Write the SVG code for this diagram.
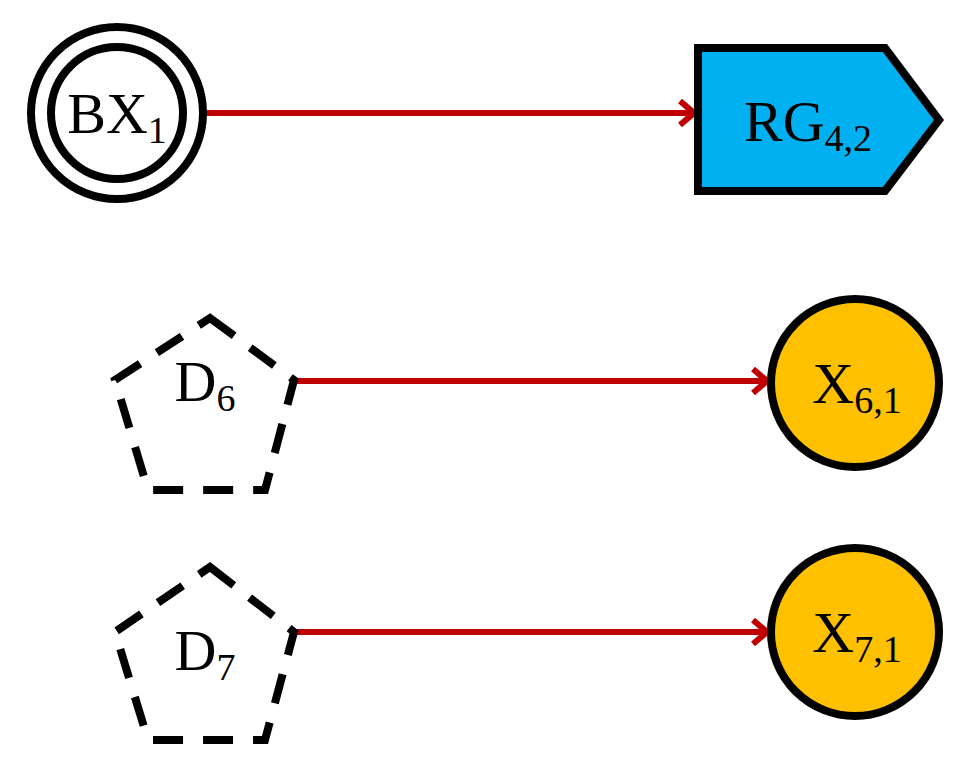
<svg xmlns="http://www.w3.org/2000/svg" width="970" height="773" viewBox="0 0 970 773">
<style>
.t{font-family:"Liberation Serif",serif;font-size:58px;fill:#000}
.s{font-size:38px}
.e{stroke:#C00000;stroke-width:6;fill:none}
.n{stroke:#000;stroke-width:8}
.d{stroke:#000;stroke-width:8;fill:none;stroke-dasharray:30 20}
</style>
<defs><marker id="a" markerWidth="10" markerHeight="10" refX="8" refY="5" orient="auto" markerUnits="userSpaceOnUse" viewBox="0 0 10 10"><path d="M0,0 L8,5 L0,10" fill="none" stroke="#C00000" stroke-width="2"/></marker>
<marker id="m" viewBox="0 0 20 30" refX="17" refY="15" markerWidth="20" markerHeight="30" markerUnits="userSpaceOnUse" orient="auto"><path d="M3,3 L17,15 L3,27" fill="none" stroke="#C00000" stroke-width="6"/></marker></defs>
<g id="connectors">
<line class="e" x1="207" y1="113" x2="694" y2="113" marker-end="url(#m)"/>
<line class="e" x1="293" y1="381" x2="767" y2="381" marker-end="url(#m)"/>
<line class="e" x1="293" y1="632" x2="767" y2="632" marker-end="url(#m)"/>
</g>
<g id="BX1"><circle cx="117" cy="113" r="86" fill="#fff" class="n"/><circle cx="117" cy="113" r="66" fill="none" class="n"/><text class="t" x="117" y="133" text-anchor="middle">BX<tspan class="s" dy="10">1</tspan></text></g>
<g id="RG42"><path d="M698,48 L885,48 L939,120 L885,191 L698,191 Z" fill="#00B0F0" class="n" stroke-linejoin="miter"/><text class="t" x="808" y="141" text-anchor="middle">RG<tspan class="s" dy="10">4,2</tspan></text></g>
<g id="D6"><path d="M210,318 L294,380 L265,490 L148,490 L115,380 Z" class="d"/><text class="t" x="205" y="401" text-anchor="middle">D<tspan class="s" dy="10">6</tspan></text></g>
<g id="X61"><circle cx="855" cy="383" r="84" fill="#FFC000" class="n"/><text class="t" x="857" y="403" text-anchor="middle">X<tspan class="s" dy="10">6,1</tspan></text></g>
<g id="D7"><path d="M210,567 L294,632 L265,740 L148,740 L115,632 Z" class="d"/><text class="t" x="205" y="670" text-anchor="middle">D<tspan class="s" dy="10">7</tspan></text></g>
<g id="X71"><circle cx="855" cy="632" r="84" fill="#FFC000" class="n"/><text class="t" x="857" y="652" text-anchor="middle">X<tspan class="s" dy="10">7,1</tspan></text></g>
</svg>
